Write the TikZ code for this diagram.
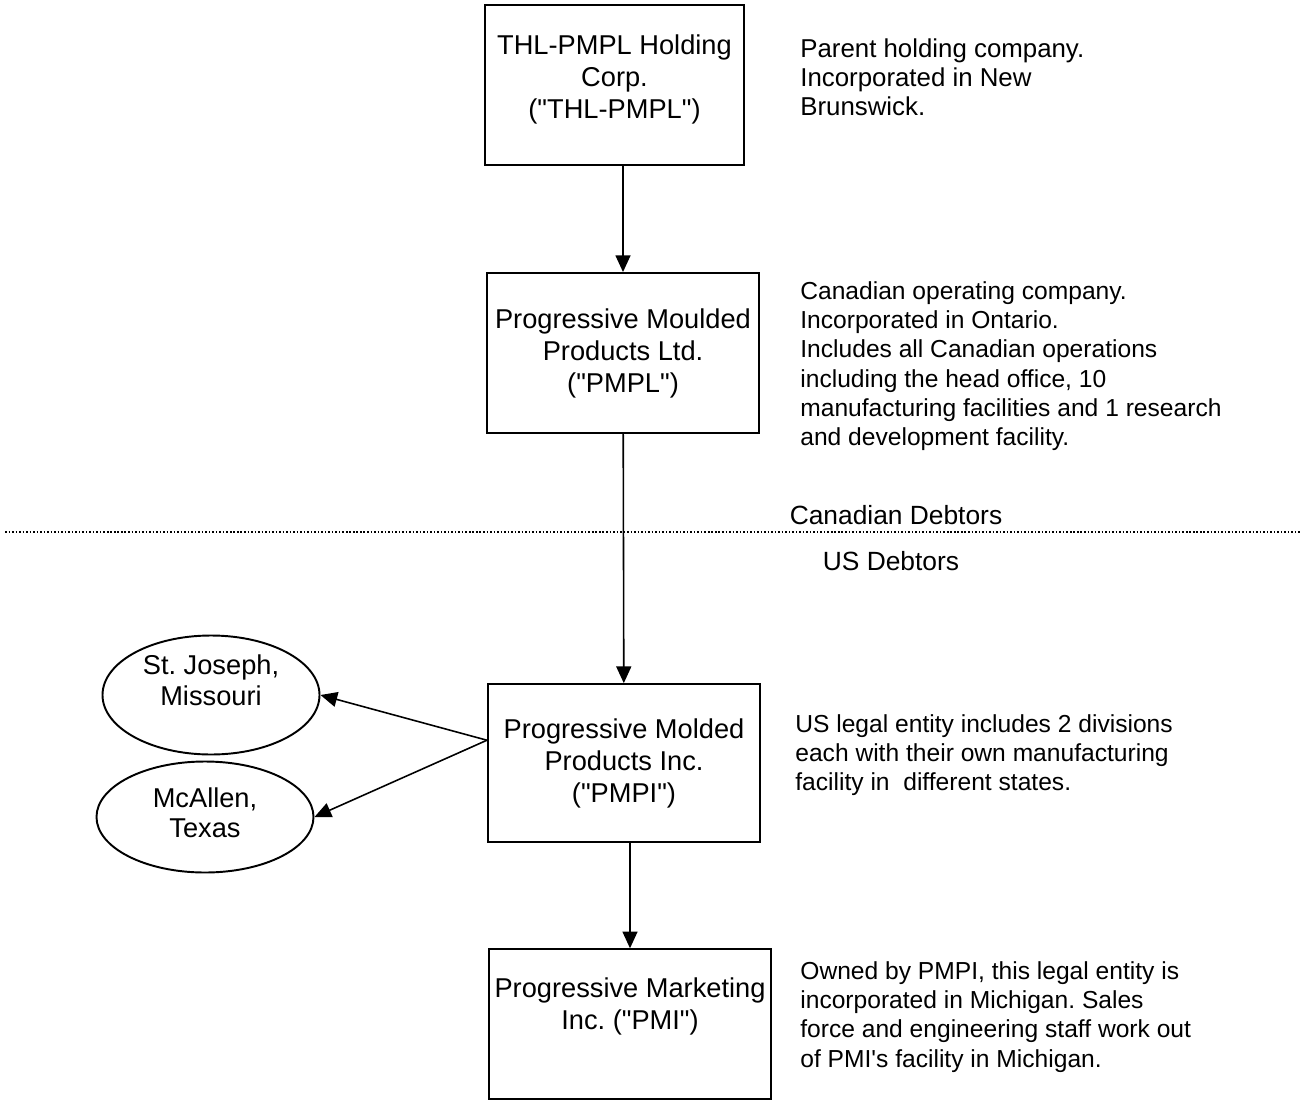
\documentclass[tikz,border=0pt]{standalone}
\usepackage{fontspec}
\setmainfont{Liberation Sans}[Ligatures=TeXOff]
\usetikzlibrary{positioning,arrows.meta,shapes.geometric}
\frenchspacing

\tikzset{
  entity/.style={draw, line width=1.2pt, align=center, inner sep=0pt,
    font=\fontsize{15.5}{18.2}\selectfont},
  division/.style={draw, ellipse, line width=1.1pt, align=center, inner sep=0pt,
    font=\fontsize{15.5}{17.5}\selectfont},
  note/.style={anchor=north west, align=left, inner sep=0pt,
    font=\fontsize{14}{16.7}\selectfont},
  owns/.style={-{Triangle[length=9.5pt,width=8.5pt]}, line width=0.9pt},
}

\begin{document}
\begin{tikzpicture}
	\useasboundingbox (0,0) rectangle (26.02,-22.06);

	% legal entities
	\node[entity, minimum width=5.18cm, minimum height=3.2cm, text depth=0.35cm] (thl) at (12.29,-1.70) {THL-PMPL Holding\\Corp.\\("THL-PMPL")};
	\node[entity, minimum width=5.44cm, minimum height=3.2cm, below=2.12cm of thl, xshift=0.17cm] (pmpl) {Progressive Moulded\\Products Ltd.\\("PMPL")};
	\node[entity, minimum width=5.44cm, minimum height=3.16cm, below=4.98cm of pmpl, xshift=0.02cm] (pmpi) {Progressive Molded\\Products Inc.\\("PMPI")};
	\node[entity, minimum width=5.64cm, minimum height=3.0cm, below=2.10cm of pmpi, xshift=0.12cm] (pmi) {Progressive Marketing\\Inc. ("PMI")\\\strut};

	% US divisions
	\node[division, minimum width=4.34cm, minimum height=2.38cm, text depth=0.6cm] (stjoe) at (4.22,-13.90) {St. Joseph,\\Missouri};
	\node[division, minimum width=4.34cm, minimum height=2.22cm, text depth=0.18cm] (mcallen) at (4.10,-16.34) {McAllen,\\Texas};

	% notes
	\node[note, font=\fontsize{14.7}{16.7}\selectfont] (thlnote) at (16.0,-0.76) {Parent holding company.\\Incorporated in New\\Brunswick.};
	\node[note] (pmplnote) at (16.0,-5.62) {Canadian operating company.\\Incorporated in Ontario.\\Includes all Canadian operations\\including the head office, 10\\manufacturing facilities and 1 research\\and development facility.};
	\node[note] (pmpinote) at (15.9,-14.28) {US legal entity includes 2 divisions\\each with their own manufacturing\\facility in\ \ different states.};
	\node[note] (pminote) at (16.0,-19.22) {Owned by PMPI, this legal entity is\\incorporated in Michigan. Sales\\force and engineering staff work out\\of PMI's facility in Michigan.};

	% debtor groups
	\coordinate (splitw) at (0.1,-10.64);
	\coordinate (splite) at (26.02,-10.64);
	\draw[line width=1.2pt, dash pattern=on 0.9pt off 1.1pt] (splitw) -- (splite);
	\node[font=\fontsize{15}{16.7}\selectfont] (cdn) at (17.92,-10.30) {Canadian Debtors};
	\node[font=\fontsize{15}{16.7}\selectfont] (us) at (17.82,-11.22) {US Debtors};

	\draw[owns] (thl.south -| pmpl.north) -- (pmpl.north);
	\draw[owns] (pmpl) -- (pmpi);
	\draw[owns] ([yshift=0.46cm]pmpi.west) -- (stjoe.east);
	\draw[owns] ([yshift=0.46cm]pmpi.west) -- (mcallen.east);
	\draw[owns] (pmpi.south -| pmi.north) -- (pmi.north);
\end{tikzpicture}
\end{document}
